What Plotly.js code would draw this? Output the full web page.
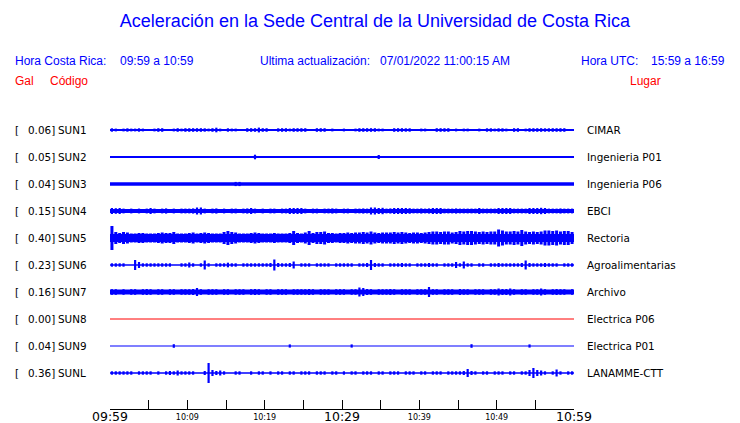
<!DOCTYPE html>
<html><head><meta charset="utf-8">
<script src="https://cdn.plot.ly/plotly-3.0.1.min.js"></script>
<style>html,body{margin:0;padding:0;background:#fff}</style>
</head><body><div id="chart" style="width:740px;height:423px"></div>
<script>
// ---- data ----
const stations = ["SUN1","SUN2","SUN3","SUN4","SUN5","SUN6","SUN7","SUN8","SUN9","SUNL"];
const places = ["CIMAR","Ingenieria P01","Ingenieria P06","EBCI","Rectoria","Agroalimentarias","Archivo","Electrica P06","Electrica P01","LANAMME-CTT"];
const peakGal = ["0.06","0.05","0.04","0.15","0.40","0.23","0.16","0.00","0.04","0.36"];
const traceColors = ["#0000ff","#0000ff","#0000ff","#0000ff","#0000ff","#0000ff","#0000ff","#ff0000","#0000ff","#0000ff"];
// noise floor (half-width of the continuous band) per station
const noiseFloor = [1,1,1.8,2.1,4,0.8,2.4,0.5,0.6,0.7];
// burst peaks per 30-second bin (120 bins = 60 minutes), 0 = nothing above the floor
const sun1 = [1.7,1.4,0,1.4,1.7,1.4,1.4,1.7,1.4,0, 0,1.4,1.8,1.8,0,0,1.4,1.8,1.4,1.8, 1.8,1.8,1.8,1.8,1.7,1.4,1.8,2.3,1.4,0, 1.7,1.4,1.4,0,0,1.8,1.8,1.8,2.4,1.8, 1.8,0,0,1.7,1.8,1.8,1.4,1.8,1.8,1.8, 1.8,0,0,1.8,1.8,1.8,0,1.4,0,0, 1.4,0,0,1.4,1.8,1.8,1.8,1.8,1.8,1.4, 1.4,0,0,1.8,1.8,1.8,1.7,1.7,0,0, 1.4,1.4,0,0,1.8,1.8,1.8,1.8,0,1.4, 0,1.4,1.4,0,0,1.4,0,1.7,1.7,1.4, 1.7,1.7,1.4,0,1.8,1.8,0,1.4,1.8,1.8, 1.8,1.8,1.7,1.7,1.8,1.8,1.8,1.8,0,0];
const sun2 = [0,0,0,0,0,0,0,0,0,0, 0,0,0,0,0,0,0,0,0,0, 0,0,0,0,0,0,0,0,0,0, 0,0,0,0,0,0,0,2.3,0,0, 0,0,0,0,0,0,0,0,0,0, 0,0,0,0,0,0,0,0,0,0, 0,0,0,0,0,0,0,0,0,2.0, 0,0,0,0,0,0,0,0,0,0, 0,0,0,0,0,0,0,0,0,0, 0,0,0,0,0,0,0,0,0,0, 0,0,0,0,0,0,0,0,0,0, 0,0,0,0,0,0,0,0,0,0];
const sun3 = [0,0,0,0,0,0,0,0,0,0, 0,0,0,0,0,0,0,0,0,0, 0,0,0,0,0,0,0,0,0,0, 0,0,2.1,2.1,0,0,0,0,0,0, 0,0,0,0,0,0,0,0,0,0, 0,0,0,0,0,0,0,0,0,0, 0,0,0,0,0,0,0,0,0,0, 0,0,0,0,0,0,0,0,0,0, 0,0,0,0,0,0,0,0,0,0, 0,0,0,0,0,0,0,0,0,0, 0,0,0,0,0,0,0,0,0,0, 0,0,0,0,0,0,0,0,0,0];
const sun4 = [3,2.8,3,2.4,0,2.4,0,2.4,0,2.4, 3,2.4,0,2.4,2.6,0,2.4,0,2.4,2.4, 2.4,2.6,3.5,3.5,2.4,0,2.4,2.6,0,2.4, 0,2.4,2.4,0,2.4,2.6,3,2.4,0,2.4, 0,2.4,2.4,0,2.4,2.4,3,3,3,3, 2.4,0,2.4,2.4,0,2.4,2.4,2.6,2.4,0, 2.4,2.4,0,2.4,2.4,2.6,2.4,3.5,3.5,3, 3.2,2.4,2.6,3,3,3,3,2.8,2.4,2.4, 2.6,2.4,2.6,3,3,3,2.4,2.4,2.4,2.6, 2.4,2.4,2.4,2.4,2.4,3,2.4,2.4,2.4,2.4, 3,3,3,3,2.4,2.4,2.4,2.4,3,3, 3,3.2,3,2.4,2.4,2.4,2.6,2.4,2.4,2.4];
const sun5 = [12,6,5,6,5.5,4.5,4.5,5,5,4.5, 4.5,4.5,5,5.5,5,5,6,4.5,4.5,4.5, 5,5.5,4.5,5,5.5,5,4.5,4.5,4.5,6, 7,6,5.5,4.5,4.5,4.5,5,5.5,5,4.5, 4.5,4.5,5,4.5,4.5,4.5,5,7,5,4.5, 5.5,7,5,6,6,6.5,5,5,4.5,5, 5,5.5,5,5.5,5.5,6,5.5,6.5,5.5,5, 5.5,5.5,5.5,6,5.5,6,5.5,5,5.5,5.5, 5,5.5,6,6.5,6.5,6,6.5,6.5,5.5,6, 7,6.5,7,7,6.5,6,6.5,6,6.5,6.5, 8.5,7.5,6.5,6.5,7,6.5,8,6.5,6,6.5, 6,6.5,7.5,7.5,7,7.5,6.5,7,7,6];
const sun6 = [1.7,1.7,1.7,1.7,0,0,5,3,1.7,1.7, 1.7,1.7,1.7,1.7,1.7,1.7,0,0,1.7,1.7, 2.5,1.7,0,1.7,4.5,1.7,0,1.7,1.7,1.7, 2.3,1.7,1.7,0,1.7,1.7,1.7,1.7,1.7,1.7, 1.7,2,5.5,2,1.7,1.7,2,3.5,0,1.7, 1.7,1.7,0,1.7,1.7,1.7,1.7,0,1.7,1.7, 1.7,1.7,1.7,0,1.7,1.7,2,5,2,1.7, 1.7,0,1.7,1.7,1.7,2,1.7,1.7,0,1.7, 1.7,1.7,2,1.7,1.7,0,1.7,1.7,1.7,3, 1.7,3.5,1.7,1.7,0,1.7,1.7,0,1.7,1.7, 2,1.7,1.7,1.7,1.7,1.7,2,4.5,2,1.7, 1.7,1.7,2,1.7,1.7,1.7,0,1.7,1.7,1.7];
const sun7 = [2.8,2.8,0,2.8,0,2.8,2.8,0,2.8,3, 2.8,0,2.8,2.8,0,2.8,2.8,0,2.8,2.8, 2.8,3,4,2.8,0,2.8,2.8,2.8,0,2.8, 2.8,0,2.8,2.8,2.8,0,2.8,3,2.8,0, 2.8,2.8,0,2.8,2.8,2.8,0,2.8,2.8,2.8, 2.8,3,2.8,0,2.8,2.8,2.8,0,2.8,2.8, 2.8,0,2.8,2.8,4.5,4,3,2.8,0,2.8, 2.8,2.8,3,2.8,0,2.8,2.8,2.8,0,2.8, 2.8,2.8,5,2.8,2.8,0,2.8,2.8,2.8,0, 3,2.8,2.8,0,2.8,2.8,2.8,0,2.8,2.8, 3.5,3,3,3.5,2.8,0,2.8,2.8,0,2.8, 2.8,3.5,2.8,0,2.8,3,2.8,2.8,0,2.8];
const sun8 = [0,0,0,0,0,0,0,0,0,0, 0,0,0,0,0,0,0,0,0,0, 0,0,0,0,0,0,0,0,0,0, 0,0,0,0,0,0,0,0,0,0, 0,0,0,0,0,0,0,0,0,0, 0,0,0,0,0,0,0,0,0,0, 0,0,0,0,0,0,0,0,0,0, 0,0,0,0,0,0,0,0,0,0, 0,0,0,0,0,0,0,0,0,0, 0,0,0,0,0,0,0,0,0,0, 0,0,0,0,0,0,0,0,0,0, 0,0,0,0,0,0,0,0,0,0];
const sun9 = [0,0,0,0,0,0,0,0,0,0, 0,0,0,0,0,0,1.8,0,0,0, 0,0,0,0,0,0,0,0,0,0, 0,0,0,0,0,0,0,0,0,0, 0,0,0,0,0,0,1.6,0,0,0, 0,0,0,0,0,0,0,0,0,0, 0,0,1.6,0,0,0,0,0,0,0, 0,0,0,0,0,0,0,0,0,0, 0,0,0,0,0,0,0,0,0,0, 0,0,0,1.8,0,0,0,0,0,0, 0,0,0,0,0,0,0,0,1.6,0, 0,0,0,0,0,0,0,0,0,0];
const sunl = [1.7,1.7,1.7,1.7,1.7,1.7,0,1.7,1.7,1.7, 1.7,0,1.7,0,1.7,2,1.7,2.5,1.7,1.7, 1.7,1.7,0,0,2,10,3,2,2.5,1.7, 0,0,1.7,1.7,0,0,1.7,0,1.7,1.7, 0,1.7,0,1.7,1.7,0,1.7,1.7,0,1.7, 1.7,1.7,0,1.7,1.7,1.7,0,1.7,1.7,0, 1.7,0,1.7,1.7,0,1.7,1.7,1.7,0,1.7, 1.7,0,1.7,1.7,1.7,0,1.7,1.7,1.7,0, 1.7,1.7,0,1.7,1.7,1.7,0,1.7,1.7,1.7, 1.7,2,4,2,1.7,0,1.7,1.7,0,1.7, 1.7,1.7,0,1.7,1.7,0,1.7,1.7,3,5, 3,2.5,1.7,0,1.7,3.5,1.7,0,1.7,1.7];
const peaks = [sun1,sun2,sun3,sun4,sun5,sun6,sun7,sun8,sun9,sunl];
const bigTickMinutes = [0,5,10,15,20,25,30,35,40,45,50,55,60];
const bigTickLabels = ["09:59","","","","","","10:29","","","","","","10:59"];
const smallTickMinutes = [10,20,40,50];
const smallTickLabels = ["10:09","10:19","10:39","10:49"];

// ---- drawing ----
const W = 740, H = 423;
const ROW = 27;           // px between rows
const BIN = 0.5;          // minutes per bin
const traces = [];
stations.forEach((s, i) => {
  const col = traceColors[i];
  const f = noiseFloor[i];
  traces.push({x:[0,60], y:[i,i], mode:'lines', line:{color:col, width:2*f}, hoverinfo:'skip', showlegend:false});
  const xs = [], ys = [];
  peaks[i].forEach((p, b) => {
    if (p > f) {
      const xc = (b + 0.5) * BIN;
      xs.push(xc, xc, null);
      ys.push(i - p/ROW, i + p/ROW, null);
    }
  });
  if (xs.length) traces.push({x:xs, y:ys, mode:'lines', line:{color:col, width:f >= 3 ? 3 : 2.2}, hoverinfo:'skip', showlegend:false});
});

const px = v => v / W;
const py = v => 1 - v / H;
const ann = [];
const lab = {family:'DejaVu Sans', size:10.4, color:'#000'};
stations.forEach((s, i) => {
  ann.push({xref:'paper', yref:'y', x:px(13), y:i, xanchor:'left', yanchor:'middle', text:'[', showarrow:false, font:lab});
  ann.push({xref:'paper', yref:'y', x:px(26), y:i, xanchor:'left', yanchor:'middle', text:peakGal[i] + ']', showarrow:false, font:lab});
  ann.push({xref:'paper', yref:'y', x:px(56), y:i, xanchor:'left', yanchor:'middle', text:s, showarrow:false, font:lab});
  ann.push({xref:'paper', yref:'y', x:px(585), y:i, xanchor:'left', yanchor:'middle', text:places[i], showarrow:false, font:lab});
});
const hb = {family:'Liberation Sans, Arial, sans-serif', size:12, color:'#0000ff'};
const hr = {family:'Liberation Sans, Arial, sans-serif', size:12, color:'#ff0000'};
const head = [
  [13, 61, 'Hora Costa Rica:', hb], [118, 61, '09:59 a 10:59', hb],
  [258, 61, 'Ultima actualización:', hb], [378, 61, '07/01/2022 11:00:15 AM', hb],
  [579, 61, 'Hora UTC:', hb], [649, 61, '15:59 a 16:59', hb],
  [13, 81, 'Gal', hr], [48, 81, 'Código', hr], [628, 81, 'Lugar', hr]
];
head.forEach(h => ann.push({xref:'paper', yref:'paper', x:px(h[0]), y:py(h[1]), xanchor:'left', yanchor:'middle', text:h[2], showarrow:false, font:h[3]}));

const layout = {
  width: W, height: H,
  margin: {l:0, r:0, t:0, b:0},
  paper_bgcolor:'#fff', plot_bgcolor:'#fff',
  title: {text:'Aceleración en la Sede Central de la Universidad de Costa Rica',
          font:{family:'Liberation Sans, Arial, sans-serif', size:18, color:'#0000ff'},
          x: 375/W, xanchor:'center', y: 1 - 21/H, yanchor:'middle', xref:'container', yref:'container'},
  xaxis: {domain:[110/W, 574/W], range:[0,60], showgrid:false, zeroline:false,
          showline:true, linecolor:'#000', linewidth:1,
          ticks:'inside', ticklen:9, tickcolor:'#000', tickwidth:1,
          tickmode:'array', tickvals:bigTickMinutes, ticktext:bigTickLabels, ticklabelstandoff:-4,
          tickfont:{family:'DejaVu Sans', size:12.5, color:'#000'}, automargin:false, fixedrange:true},
  xaxis2: {domain:[110/W, 574/W], range:[0,60], overlaying:'x', anchor:'y', side:'bottom',
          showgrid:false, zeroline:false, showline:false, ticks:'',
          tickmode:'array', tickvals:smallTickMinutes, ticktext:smallTickLabels, ticklabelstandoff:2,
          tickfont:{family:'DejaVu Sans', size:8, color:'#000'}, automargin:false, fixedrange:true},
  yaxis: {domain:[(H-409)/H, (H-115)/H], range:[(409-130)/ROW, -15/ROW], visible:false, showgrid:false, zeroline:false, fixedrange:true},
  annotations: ann,
  showlegend:false
};
traces.push({x:[0], y:[0], xaxis:'x2', yaxis:'y', mode:'markers', marker:{opacity:0}, hoverinfo:'skip', showlegend:false});
Plotly.newPlot('chart', traces, layout, {staticPlot:true, displayModeBar:false});
</script></body></html>
